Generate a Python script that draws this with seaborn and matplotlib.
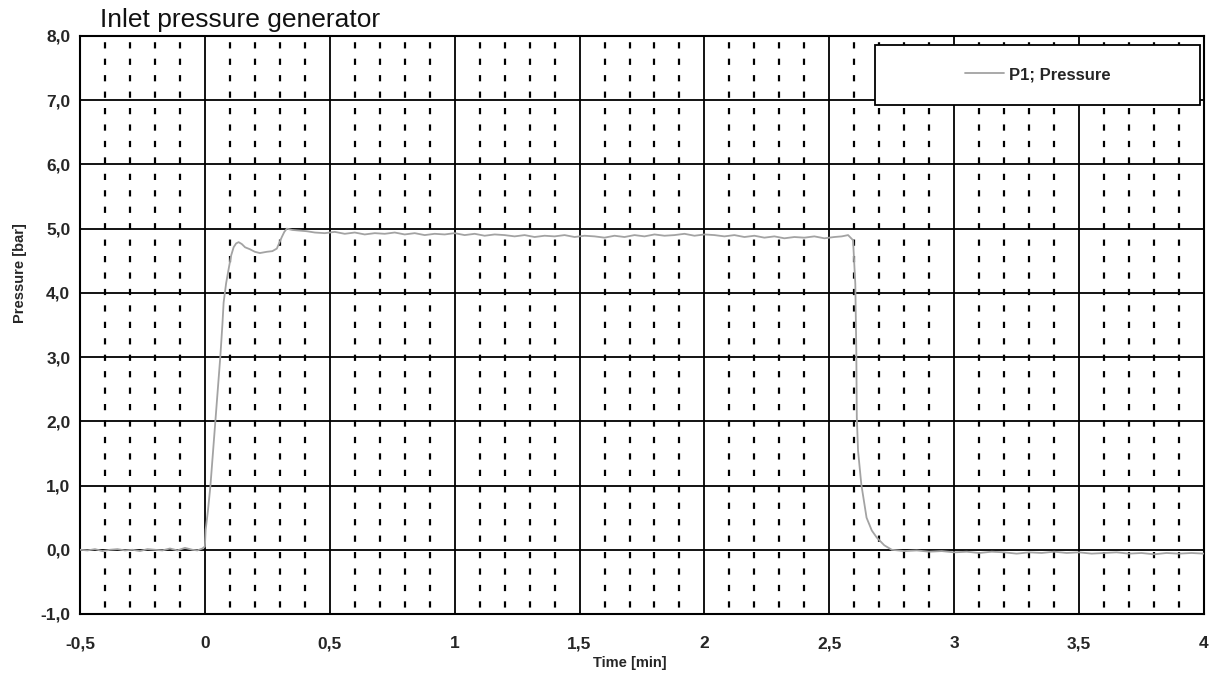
import matplotlib
matplotlib.use("Agg")
import matplotlib.pyplot as plt
from matplotlib.patches import Rectangle
import numpy as np
import pandas as pd
import seaborn as sns

# ---- data ----
time_min = [
    -0.50, -0.47, -0.44, -0.41, -0.38, -0.35, -0.32, -0.29, -0.26, -0.23,
    -0.20, -0.17, -0.14, -0.11, -0.08, -0.05, -0.03, -0.01,
    0.000, 0.003, 0.012, 0.022, 0.032, 0.042, 0.052, 0.062, 0.070, 0.075,
    0.085, 0.095, 0.105, 0.115, 0.125, 0.135, 0.148, 0.161, 0.180, 0.200,
    0.220, 0.248, 0.270, 0.288, 0.298, 0.308, 0.318, 0.328, 0.350, 0.380,
    0.408, 0.440, 0.48, 0.52, 0.56, 0.60, 0.64, 0.68, 0.72, 0.76,
    0.80, 0.84, 0.88, 0.92, 0.96, 1.00, 1.04, 1.08, 1.12, 1.16,
    1.20, 1.24, 1.28, 1.32, 1.36, 1.40, 1.44, 1.48, 1.52, 1.56,
    1.60, 1.64, 1.68, 1.72, 1.76, 1.80, 1.84, 1.88, 1.92, 1.96,
    2.00, 2.04, 2.08, 2.12, 2.16, 2.20, 2.24, 2.28, 2.32, 2.36,
    2.40, 2.44, 2.48, 2.52, 2.55, 2.575, 2.595, 2.604, 2.608, 2.610,
    2.615, 2.628, 2.649, 2.670, 2.690, 2.720, 2.750, 2.80, 2.85, 2.90,
    2.95, 3.00, 3.05, 3.10, 3.15, 3.20, 3.25, 3.30, 3.35, 3.40,
    3.45, 3.50, 3.55, 3.60, 3.65, 3.70, 3.75, 3.80, 3.85, 3.90,
    3.95, 4.00,
]
pressure_bar = [
    0.00, -0.01, 0.01, -0.02, 0.00, 0.01, -0.01, 0.00, -0.02, 0.01,
    0.00, -0.01, 0.02, -0.01, 0.03, 0.00, -0.01, 0.02,
    0.05, 0.31, 0.60, 0.99, 1.50, 2.03, 2.50, 3.02, 3.50, 3.85,
    4.15, 4.37, 4.58, 4.71, 4.77, 4.79, 4.76, 4.71, 4.68, 4.64,
    4.62, 4.64, 4.65, 4.69, 4.78, 4.87, 4.95, 5.00, 4.98, 4.97,
    4.96, 4.94, 4.93, 4.95, 4.92, 4.94, 4.91, 4.93, 4.92, 4.94,
    4.91, 4.93, 4.90, 4.92, 4.91, 4.93, 4.90, 4.92, 4.89, 4.91,
    4.90, 4.88, 4.90, 4.87, 4.89, 4.88, 4.90, 4.87, 4.89, 4.88,
    4.86, 4.89, 4.87, 4.90, 4.88, 4.91, 4.89, 4.90, 4.92, 4.89,
    4.91, 4.90, 4.88, 4.90, 4.87, 4.89, 4.86, 4.88, 4.85, 4.87,
    4.86, 4.88, 4.85, 4.87, 4.88, 4.90, 4.82, 4.14, 3.10, 2.06,
    1.54, 1.02, 0.50, 0.30, 0.19, 0.07, 0.00, -0.02, -0.01, -0.03,
    -0.02, -0.04, -0.03, -0.05, -0.03, -0.04, -0.06, -0.04, -0.05, -0.03,
    -0.05, -0.04, -0.06, -0.05, -0.04, -0.06, -0.05, -0.07, -0.05, -0.06,
    -0.05, -0.06,
]
series_name = "P1; Pressure"
x_major = [-0.5, 0, 0.5, 1, 1.5, 2, 2.5, 3, 3.5, 4]
x_labels = ["-0,5", "0", "0,5", "1", "1,5", "2", "2,5", "3", "3,5", "4"]
y_major = [-1, 0, 1, 2, 3, 4, 5, 6, 7, 8]
y_labels = ["-1,0", "0,0", "1,0", "2,0", "3,0", "4,0", "5,0", "6,0", "7,0", "8,0"]

df = pd.DataFrame({"Time": time_min, "Pressure": pressure_bar,
                   "Series": [series_name] * len(time_min)})

sns.set_style("white")
plt.rcParams["font.family"] = ["Liberation Sans", "DejaVu Sans"]

fig = plt.figure(figsize=(12.12, 6.84), dpi=100)
ax = fig.add_axes([80 / 1212, 1 - 614 / 684, 1124 / 1212, 578 / 684])

sns.lineplot(data=df, x="Time", y="Pressure", hue="Series",
             palette=["#a3a3a3"], linewidth=1.3, ax=ax, legend=True,
             estimator=None, sort=False, zorder=5)

ax.set_xlim(-0.5, 4.0)
ax.set_ylim(-1.0, 8.0)
ax.set_xticks(x_major)
ax.set_xticklabels(x_labels)
ax.set_yticks(y_major)
ax.set_yticklabels(y_labels)
ax.set_xticks(np.arange(-0.5, 4.001, 0.1), minor=True)
ax.set_yticks(np.arange(-1.0, 8.001, 0.5), minor=True)

for lbl in ax.get_xticklabels() + ax.get_yticklabels():
    lbl.set_fontweight("bold")
    lbl.set_fontsize(12.5)

ax.tick_params(axis="both", which="major", direction="out", length=4,
               width=1.2, color="black")
ax.tick_params(axis="y", which="major", pad=3)
ax.tick_params(axis="x", which="major", pad=12)
ax.tick_params(axis="both", which="minor", direction="out", length=2.5,
               width=1.0, color="black")

# grid
ax.grid(which="major", axis="both", color="black", linewidth=1.3,
        linestyle="-", zorder=1)
ax.grid(which="minor", axis="x", color="black", linewidth=1.6,
        linestyle=(4.5, (2.8, 4.6)), zorder=1)
ax.grid(which="minor", axis="y", visible=False)
ax.set_axisbelow(True)

for sp in ax.spines.values():
    sp.set_color("black")
    sp.set_linewidth(1.5)

ax.set_xlabel("Time [min]", fontsize=10.5, fontweight="bold")
ax.set_ylabel("Pressure [bar]", fontsize=10.5, fontweight="bold")
ax.xaxis.set_label_coords(0.489, -0.072)
ax.yaxis.set_label_coords(-0.047, 0.59)

# legend
leg = ax.legend(loc="center", bbox_to_anchor=(0.852, 0.933), frameon=False,
                handlelength=2.3, handletextpad=0.3,
                prop={"weight": "bold", "size": 12})
box = Rectangle((0.707, 0.881), 0.289, 0.103, transform=ax.transAxes,
                facecolor="white", edgecolor="black", linewidth=1.3,
                zorder=6)
ax.add_patch(box)
leg.set_zorder(7)

fig.text(100 / 1212, 1 - 27 / 684, "Inlet pressure generator",
         fontsize=19, ha="left", va="baseline", color="#111111")

fig.savefig("out.png", dpi=100, facecolor="white")
